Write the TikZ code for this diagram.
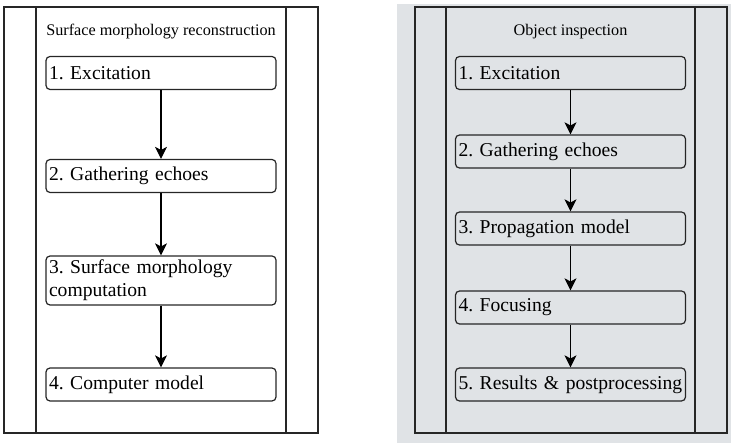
\documentclass[tikz,border=0pt]{standalone}
\usepackage{fontspec}
\setmainfont{Liberation Serif}
\usetikzlibrary{arrows.meta}
\definecolor{panelgray}{RGB}{224,227,230}
\newcommand{\boxfontsetup}{\fontsize{19.6}{23}\selectfont\frenchspacing\hyphenpenalty=10000\relax\exhyphenpenalty=10000\relax}
\begin{document}
\begin{tikzpicture}[x=1pt,y=-1pt,
  frame/.style={draw=black!85, line width=1.4pt},
  stepbox/.style={draw=black!85, line width=1.2pt, rounded corners=4pt, inner xsep=3pt, inner ysep=0pt,
    text width=224pt, align=left, minimum height=33pt, font=\boxfontsetup},
  ttl/.style={font=\fontsize{16.2}{19}\selectfont},
  flow/.style={draw=black, line width=1.2pt, -{Stealth[length=12pt,width=12pt,inset=3pt]}}]
\useasboundingbox (0,0) rectangle (731,443);
% right panel background
\fill[panelgray] (397,4) rectangle (731,443);
% left panel
\draw[frame] (4,7) rectangle (318,433);
\draw[frame] (36,7) -- (36,433);
\draw[frame] (286,7) -- (286,433);
% right panel
\draw[frame] (415,7) rectangle (727,433);
\draw[frame] (446,7) -- (446,433);
\draw[frame] (695,7) -- (695,433);
% titles
\node[ttl] (tl) at (161,32) {Surface morphology reconstruction};
\node[ttl] (tr) at (570.5,32) {Object inspection};
% left boxes
\node[stepbox] (l1) at (161,73) {1. Excitation};
\node[stepbox] (l2) at (161,176) {2. Gathering echoes};
\node[stepbox, minimum height=49pt] (l3) at (161,280.5) {3. Surface morphology\\computation};
\node[stepbox] (l4) at (161,384.5) {4. Computer model};
\draw[flow] (l1) -- (l2);
\draw[flow] (l2) -- (l3);
\draw[flow] (l3) -- (l4);
% right boxes
\node[stepbox] (r1) at (570.5,73) {1. Excitation};
\node[stepbox] (r2) at (570.5,151.5) {2. Gathering echoes};
\node[stepbox] (r3) at (570.5,228.5) {3. Propagation model};
\node[stepbox] (r4) at (570.5,307.5) {4. Focusing};
\node[stepbox] (r5) at (570.5,384.5) {5. Results \& postprocessing};
\draw[flow] (r1) -- (r2);
\draw[flow] (r2) -- (r3);
\draw[flow] (r3) -- (r4);
\draw[flow] (r4) -- (r5);
\end{tikzpicture}
\end{document}
